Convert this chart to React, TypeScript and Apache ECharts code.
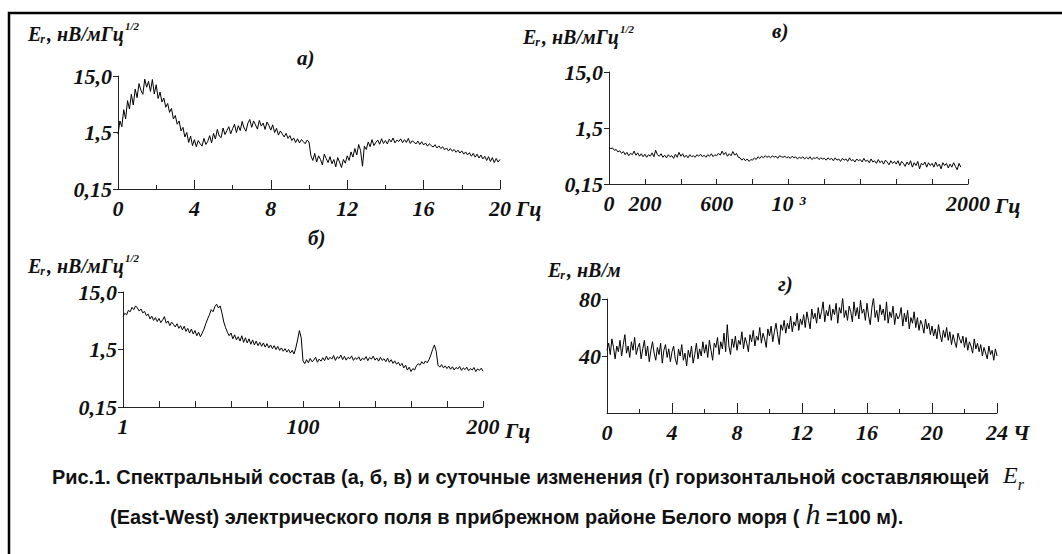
import React, { useEffect, useRef } from 'react';
import * as echarts from 'echarts';

// ---------- data ----------
// Panel а): spectrum 0–20 Hz, step 0.1 Hz
const A_STEP = 0.1;
const A_VALUES = [
  1.4, 2.4, 1.9, 3.8, 2.6, 5.5, 3.9, 7.1, 4.6, 8.8,
  6.2, 11.0, 8.4, 7.1, 13.2, 9.5, 12.0, 8.0, 13.0, 7.2,
  10.5, 6.0, 7.8, 5.2, 6.1, 4.2, 4.9, 3.4, 4.0, 2.6,
  3.0, 2.1, 2.4, 1.6, 1.85, 1.25, 1.5, 1.0, 1.3, 0.88,
  1.12, 0.84, 1.08, 0.95, 0.86, 1.18, 0.92, 1.05, 1.32, 0.98,
  1.45, 1.15, 1.7, 1.3, 1.22, 1.8, 1.38, 1.62, 1.9, 1.42,
  1.75, 2.1, 1.5, 1.98, 1.62, 2.35, 1.8, 1.58, 2.2, 2.55,
  1.85, 2.4, 2.05, 1.72, 2.45, 1.95, 2.2, 1.7, 2.3, 2.0,
  1.65, 2.05, 1.5, 1.78, 1.35, 1.6, 1.42, 1.25, 1.45, 1.18,
  1.32, 1.08, 1.2, 1.0, 1.16, 0.98, 1.12, 1.04, 0.95, 1.1,
  1.02, 0.58, 0.48, 0.64, 0.45, 0.58, 0.5, 0.4, 0.62, 0.52,
  0.44, 0.56, 0.42, 0.5, 0.37, 0.54, 0.45, 0.36, 0.5, 0.43,
  0.58, 0.48, 0.68, 0.55, 0.78, 0.6, 0.92, 0.72, 0.38, 0.86,
  0.75, 1.02, 0.84, 1.12, 0.88, 1.0, 1.1, 0.93, 1.16, 0.96,
  1.08, 0.94, 1.14, 1.02, 1.2, 0.98, 1.1, 1.04, 1.16, 0.99,
  1.12, 1.0, 1.18, 0.96, 1.07, 1.01, 0.94, 1.06, 0.92, 1.03,
  0.9, 0.98, 0.86, 0.95, 0.88, 0.83, 0.91, 0.8, 0.87, 0.78,
  0.84, 0.74, 0.8, 0.71, 0.78, 0.7, 0.75, 0.67, 0.73, 0.65,
  0.71, 0.62, 0.68, 0.6, 0.66, 0.57, 0.64, 0.55, 0.62, 0.53,
  0.6, 0.51, 0.57, 0.48, 0.56, 0.46, 0.54, 0.44, 0.52, 0.45,
  0.5,
];

// Panel в): spectrum 0–1960 Hz, step 10 Hz
const V_STEP = 10;
const V_VALUES = [
  0.68, 0.64, 0.66, 0.6, 0.62, 0.56, 0.59, 0.53, 0.57, 0.5,
  0.55, 0.48, 0.53, 0.5, 0.58, 0.49, 0.54, 0.47, 0.52, 0.46,
  0.51, 0.45, 0.5, 0.47, 0.54, 0.46, 0.6, 0.5, 0.47, 0.52,
  0.45, 0.49, 0.44, 0.5, 0.46, 0.48, 0.43, 0.51, 0.45, 0.55,
  0.47, 0.52, 0.45, 0.49, 0.44, 0.5, 0.46, 0.48, 0.45, 0.5,
  0.47, 0.51, 0.46, 0.49, 0.45, 0.5, 0.47, 0.52, 0.46, 0.5,
  0.48, 0.53, 0.49, 0.58, 0.5, 0.55, 0.47, 0.52, 0.48, 0.57,
  0.49, 0.53, 0.45, 0.44, 0.4, 0.43, 0.39, 0.42, 0.38, 0.41,
  0.4, 0.44, 0.41, 0.46, 0.43, 0.47, 0.44, 0.48, 0.45, 0.47,
  0.44, 0.48, 0.45, 0.47, 0.43, 0.48, 0.46, 0.45, 0.47, 0.44,
  0.46, 0.43, 0.47, 0.44, 0.46, 0.42, 0.45, 0.43, 0.46, 0.42,
  0.45, 0.42, 0.46, 0.41, 0.44, 0.43, 0.45, 0.41, 0.44, 0.42,
  0.43, 0.4, 0.44, 0.41, 0.43, 0.39, 0.44, 0.4, 0.42, 0.38,
  0.43, 0.4, 0.42, 0.38, 0.44, 0.39, 0.41, 0.37, 0.42, 0.39,
  0.41, 0.37, 0.43, 0.38, 0.4, 0.36, 0.42, 0.37, 0.39, 0.35,
  0.41, 0.36, 0.39, 0.34, 0.4, 0.37, 0.33, 0.39, 0.35, 0.38,
  0.34, 0.39, 0.32, 0.38, 0.35, 0.31, 0.37, 0.33, 0.39, 0.3,
  0.36, 0.32, 0.38, 0.28, 0.35, 0.33, 0.37, 0.3, 0.36, 0.32,
  0.35, 0.3, 0.37, 0.31, 0.34, 0.28, 0.36, 0.32, 0.35, 0.29,
  0.34, 0.3, 0.36, 0.31, 0.27, 0.35, 0.3,
];

// Panel б): spectrum, axis units 0–200 (labelled 1…200 Hz), step 1
const B_STEP = 1;
const B_VALUES = [
  5.6, 6.4, 6.0, 7.2, 6.8, 8.1, 7.4, 8.6, 7.9, 7.0,
  7.6, 6.5, 6.9, 5.8, 6.2, 5.1, 5.7, 4.8, 5.4, 4.6,
  5.2, 4.4, 4.9, 5.6, 4.3, 4.7, 3.9, 4.5, 4.1, 3.7,
  4.2, 3.5, 3.9, 3.3, 3.8, 3.1, 3.5, 2.9, 3.4, 2.8,
  3.2, 2.6, 3.0, 2.5, 2.9, 3.4, 4.2, 5.1, 6.0, 7.4,
  6.8, 8.3, 9.2, 7.9, 8.6, 6.4, 4.5, 3.6, 3.0, 2.6,
  2.9, 2.3, 2.7, 2.2, 2.5, 2.1, 2.6, 2.0, 2.4, 1.95,
  2.3, 1.85, 2.2, 1.8, 2.1, 1.75, 2.0, 1.7, 1.95, 1.65,
  1.9, 1.6, 1.8, 1.55, 1.75, 1.5, 1.7, 1.45, 1.6, 1.4,
  1.55, 1.35, 1.5, 1.3, 1.45, 1.25, 1.6, 2.2, 3.2, 2.4,
  0.95, 0.85, 1.0, 0.88, 1.05, 0.92, 0.98, 1.1, 0.9, 1.02,
  0.94, 1.08, 0.96, 1.15, 0.99, 1.1, 1.02, 1.18, 0.97, 1.12,
  1.05, 1.2, 1.0, 1.14, 0.98, 1.1, 1.03, 1.16, 0.97, 1.08,
  1.01, 1.12, 0.95, 1.06, 1.0, 1.13, 0.96, 1.09, 1.02, 1.15,
  0.98, 1.07, 0.94, 1.1, 0.97, 1.04, 0.92, 1.06, 0.9, 1.0,
  0.86, 0.95, 0.83, 0.9, 0.78, 0.86, 0.72, 0.8, 0.66, 0.74,
  0.62, 0.7, 0.66, 0.78, 0.85, 0.8, 0.92, 0.84, 0.95, 0.88,
  1.0, 1.2, 1.5, 1.8, 1.4, 0.8, 0.74, 0.82, 0.72, 0.78,
  0.7, 0.77, 0.68, 0.75, 0.66, 0.73, 0.69, 0.76, 0.65, 0.72,
  0.67, 0.74, 0.64, 0.7, 0.66, 0.73, 0.62, 0.69, 0.65, 0.71,
  0.63,
];

// Panel г): daily variation 0–24 h, step 0.1 h (nV/m)
const G_STEP = 0.1;
const G_VALUES = [
  44, 49, 41, 52, 46, 38, 47, 43, 51, 40,
  48, 55, 42, 47, 39, 50, 44, 53, 41, 46,
  49, 38, 45, 51, 40, 47, 36, 44, 50, 42,
  37, 46, 41, 49, 35, 44, 48, 39, 45, 36,
  43, 47, 38, 34, 45, 40, 48, 37, 42, 33,
  44, 39, 47, 35, 41, 49, 38, 45, 40, 50,
  42, 48, 39, 51, 44, 37, 49, 46, 53, 41,
  50, 45, 56, 43, 62, 47, 41, 52, 46, 54,
  44, 51, 48, 57, 45, 53, 49, 43, 55, 50,
  58, 47, 54, 51, 60, 49, 56, 52, 46, 59,
  54, 61, 50, 57, 63, 55, 48, 62, 58, 65,
  56, 63, 59, 68, 57, 64, 61, 70, 58, 66,
  62, 69, 60, 71, 65, 59, 73, 66, 70, 63,
  74, 66, 71, 78, 64, 72, 68, 76, 65, 73,
  69, 77, 63, 74, 70, 81, 67, 72, 65, 75,
  71, 64, 78, 68, 74, 66, 79, 70, 73, 65,
  77, 68, 62, 74, 81, 67, 72, 64, 76, 69,
  73, 65, 78, 63, 71, 67, 75, 62, 70, 66,
  68, 74, 61, 70, 64, 72, 59, 67, 63, 71,
  60, 67, 58, 65, 62, 56, 66, 59, 63, 55,
  61, 54, 59, 52, 62, 55, 50, 58, 53, 60,
  51, 57, 48, 55, 50, 46, 56, 52, 49, 54,
  46, 53, 44, 50, 47, 42, 52, 45, 49, 43,
  48, 40, 46, 42, 38, 47, 41, 44, 37, 45,
  40,
];

const LOG_TICKS = [0.15, 1.5, 15];
const LOG_TICK_LABELS = ['0,15', '1,5', '15,0'];
const A_X_LABELS: Record<number, string> = { 0: '0', 4: '4', 8: '8', 12: '12', 16: '16', 20: '20' };
const V_X_LABELS: Record<number, string> = { 0: '0', 200: '200', 600: '600', 1000: '10 ³', 2000: '2000' };
const B_X_LABELS: Record<number, string> = { 0: '1', 100: '100', 200: '200' };
const G_X_LABELS: Record<number, string> = { 0: '0', 4: '4', 8: '8', 12: '12', 16: '16', 20: '20', 24: '24' };
const G_Y_TICKS = [40, 80];

const CAPTION_1 = 'Рис.1. Спектральный состав (а, б, в) и суточные изменения (г) горизонтальной составляющей';
const CAPTION_2A = '(East-West) электрического поля в прибрежном районе Белого моря ( ';
const CAPTION_2B = ' =100 м).';

// ---------- styling ----------
const SERIF = '"Liberation Serif", "Times New Roman", serif';
const SANS = '"Liberation Sans", Arial, sans-serif';
const INK = '#000';

const tickFont = {
  fontFamily: SERIF,
  fontStyle: 'italic' as const,
  fontWeight: 'bold' as const,
  fontSize: 22,
  color: '#111',
};

let measureCtx: CanvasRenderingContext2D | null = null;
function measure(text: string, font: string) {
  if (!measureCtx) measureCtx = document.createElement('canvas').getContext('2d');
  if (!measureCtx) return text.length * 8;
  measureCtx.font = font;
  return measureCtx.measureText(text).width;
}

function logLabel(v: number) {
  let best = 0;
  LOG_TICKS.forEach((t, i) => {
    if (Math.abs(Math.log10(t) - Math.log10(v)) < Math.abs(Math.log10(LOG_TICKS[best]) - Math.log10(v))) best = i;
  });
  return LOG_TICK_LABELS[best];
}

const axisLineStyle = { color: '#222', width: 1 };

function logYAxis(gridIndex: number) {
  return {
    type: 'log',
    gridIndex,
    logBase: 10,
    min: 0.15,
    max: 15,
    axisLine: { show: true, lineStyle: axisLineStyle },
    axisTick: { show: true, length: 5, customValues: LOG_TICKS, lineStyle: axisLineStyle },
    axisLabel: { show: true, customValues: LOG_TICKS, formatter: (v: number) => logLabel(v), margin: 6, ...tickFont },
    splitLine: { show: false },
    minorTick: { show: false },
  };
}

function xAxis(gridIndex: number, max: number, interval: number, labels: Record<number, string>, tickLen: number, minor: boolean) {
  return {
    type: 'value',
    gridIndex,
    min: 0,
    max,
    interval,
    axisLine: { show: true, onZero: false, lineStyle: axisLineStyle },
    axisTick: { show: true, inside: true, length: tickLen, lineStyle: axisLineStyle },
    minorTick: { show: minor, splitNumber: 2, length: 4, lineStyle: axisLineStyle },
    axisLabel: {
      show: true,
      margin: 8,
      showMinLabel: true,
      showMaxLabel: true,
      formatter: (v: number) => labels[v] ?? '',
      ...tickFont,
    },
    splitLine: { show: false },
    minorSplitLine: { show: false },
  };
}

function lineSeries(idx: number, step: number, values: number[]) {
  return {
    type: 'line',
    xAxisIndex: idx,
    yAxisIndex: idx,
    showSymbol: false,
    symbol: 'none',
    silent: true,
    lineStyle: { color: INK, width: 1 },
    data: values.map((v, i) => [+(i * step).toFixed(4), v]),
  };
}

function txt(x: number, y: number, text: string, font: string, extra: any = {}) {
  return {
    type: 'text',
    x,
    y,
    silent: true,
    ...extra,
    style: { text, font, fill: '#111', align: 'left', verticalAlign: 'middle' },
  };
}

function axisTitle(x: number, y: number, unit: string, sup: boolean) {
  const big = `italic bold 20px ${SERIF}`;
  const sub = `italic bold 12px ${SERIF}`;
  const supF = `italic bold 11px ${SERIF}`;
  const wE = measure('E', big);
  const wr = measure('r', sub);
  const wU = measure(unit, big);
  const els: any[] = [
    txt(x, y, 'E', big),
    txt(x + wE - 1, y + 5, 'r', sub),
    txt(x + wE + wr + 1, y, unit, big),
  ];
  if (sup) els.push(txt(x + wE + wr + wU + 2, y - 8, '1/2', supF));
  return els;
}

function buildCaption() {
  const capFont = `bold 20px ${SANS}`;
  const startX = 52;
  const targetW = 938;
  const s = targetW / measure(CAPTION_1, capFont);
  const y1 = 477;
  const y2 = 517;
  const eFont = `italic 24px ${SERIF}`;
  const eX = startX + targetW + 13;
  const els: any[] = [
    txt(startX, y1, CAPTION_1, capFont, { scaleX: s }),
    txt(eX, y1 - 2, 'E', eFont),
    txt(eX + measure('E', eFont), y1 + 7, 'r', `italic 16px ${SERIF}`),
  ];
  const x2 = 110;
  const w2a = measure(CAPTION_2A, capFont) * s;
  const hFont = `italic 30px ${SERIF}`;
  const wh = measure('h', hFont);
  els.push(txt(x2, y2, CAPTION_2A, capFont, { scaleX: s }));
  els.push(txt(x2 + w2a, y2 - 4, 'h', hFont));
  els.push(txt(x2 + w2a + wh, y2, CAPTION_2B, capFont, { scaleX: s }));
  return els;
}

export default function App() {
  const ref = useRef<HTMLDivElement>(null);
  useEffect(() => {
    document.body.style.margin = '0';
    if (!ref.current) return;
    const chart = echarts.init(ref.current, undefined, { renderer: 'svg' });
    const lbl = `italic bold 21px ${SERIF}`;
    const unitFont = `italic bold 22px ${SERIF}`;
    const option: any = {
      animation: false,
      backgroundColor: '#fff',
      grid: [
        { left: 118, top: 76, width: 382, height: 113, outerBoundsMode: 'none' },
        { left: 609, top: 72, width: 359, height: 112, outerBoundsMode: 'none' },
        { left: 123, top: 292, width: 360, height: 115, outerBoundsMode: 'none' },
        { left: 607, top: 299, width: 390, height: 114, outerBoundsMode: 'none' },
      ],
      xAxis: [
        xAxis(0, 20, 4, A_X_LABELS, 9, true),
        xAxis(1, 2000, 200, V_X_LABELS, 5, false),
        xAxis(2, 200, 20, B_X_LABELS, 6, false),
        xAxis(3, 24, 4, G_X_LABELS, 10, true),
      ],
      yAxis: [
        logYAxis(0),
        logYAxis(1),
        logYAxis(2),
        {
          type: 'value',
          gridIndex: 3,
          min: 0,
          max: 80,
          interval: 40,
          axisLine: { show: true, lineStyle: axisLineStyle },
          axisTick: { show: true, length: 5, customValues: G_Y_TICKS, lineStyle: axisLineStyle },
          axisLabel: { show: true, customValues: G_Y_TICKS, margin: 6, formatter: (v: number) => String(v), ...tickFont },
          splitLine: { show: false },
        },
      ],
      series: [
        lineSeries(0, A_STEP, A_VALUES),
        lineSeries(1, V_STEP, V_VALUES),
        lineSeries(2, B_STEP, B_VALUES),
        lineSeries(3, G_STEP, G_VALUES),
      ],
      graphic: [
        // frame (cropped at the right and bottom edges)
        { type: 'rect', silent: true, shape: { x: 9, y: 13, width: 1200, height: 700 }, style: { fill: 'none', stroke: '#000', lineWidth: 2.5 } },
        ...axisTitle(28, 34, ', нВ/мГц', true),
        ...axisTitle(523, 37, ', нВ/мГц', true),
        ...axisTitle(28, 266, ', нВ/мГц', true),
        ...axisTitle(548, 270, ', нВ/м', false),
        txt(297, 58, 'а)', lbl),
        txt(772, 31, 'в)', lbl),
        txt(308, 238, 'б)', lbl),
        txt(778, 284, 'г)', lbl),
        txt(516, 208, 'Гц', unitFont),
        txt(995, 205, 'Гц', unitFont),
        txt(505, 430, 'Гц', unitFont),
        txt(1013, 432, 'Ч', unitFont),
        ...buildCaption(),
      ],
    };
    chart.setOption(option);
    return () => chart.dispose();
  }, []);
  return <div ref={ref} style={{ width: 1062, height: 554 }} />;
}
